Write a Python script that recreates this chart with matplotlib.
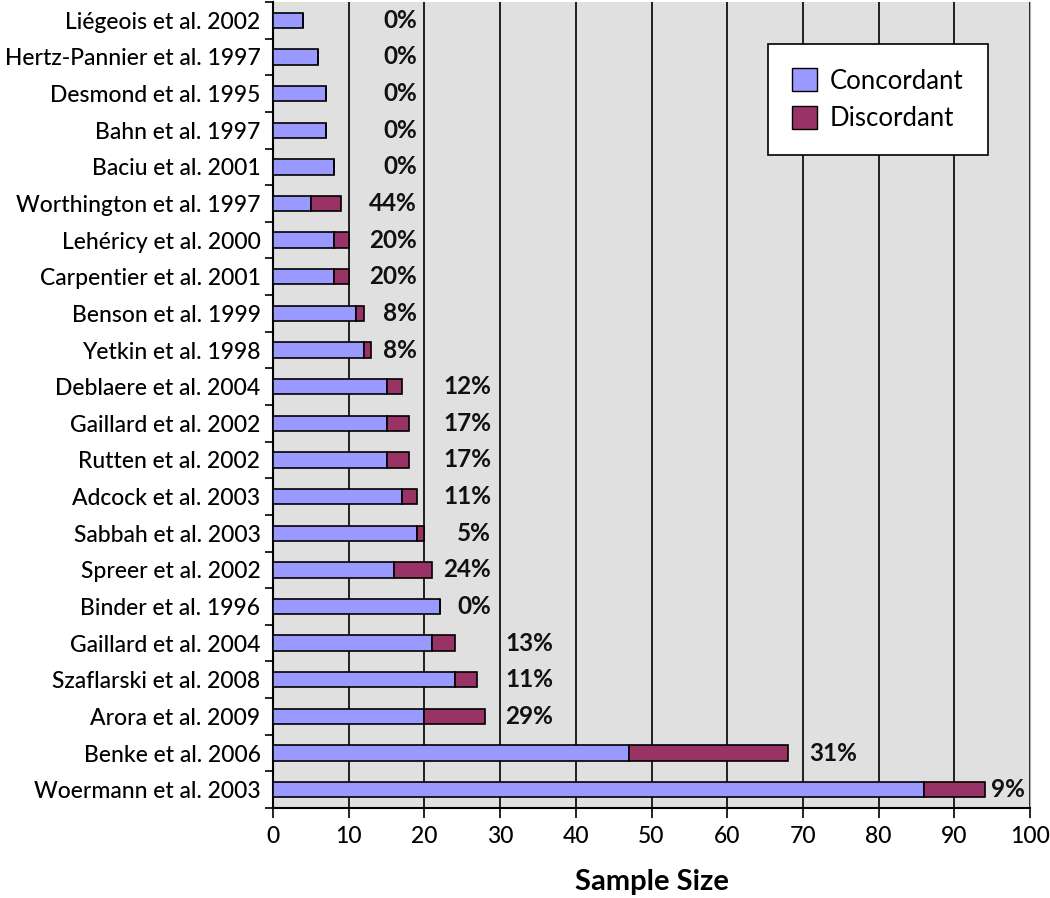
import matplotlib
matplotlib.use("Agg")
import matplotlib.pyplot as plt
import numpy as np
from matplotlib.patches import Patch

studies = ["Liégeois et al. 2002", "Hertz-Pannier et al. 1997", "Desmond et al. 1995",
           "Bahn et al. 1997", "Baciu et al. 2001", "Worthington et al. 1997",
           "Lehéricy et al. 2000", "Carpentier et al. 2001", "Benson et al. 1999",
           "Yetkin et al. 1998", "Deblaere et al. 2004", "Gaillard et al. 2002",
           "Rutten et al. 2002", "Adcock et al. 2003", "Sabbah et al. 2003",
           "Spreer et al. 2002", "Binder et al. 1996", "Gaillard et al. 2004",
           "Szaflarski et al. 2008", "Arora et al. 2009", "Benke et al. 2006",
           "Woermann et al. 2003"]
concordant = [4, 6, 7, 7, 8, 5, 8, 8, 11, 12, 15, 15, 15, 17, 19, 16, 22, 21, 24, 20, 47, 86]
discordant = [0, 0, 0, 0, 0, 4, 2, 2, 1, 1, 2, 3, 3, 2, 1, 5, 0, 3, 3, 8, 21, 8]
pct_labels = ["0%", "0%", "0%", "0%", "0%", "44%", "20%", "20%", "8%", "8%", "12%",
              "17%", "17%", "11%", "5%", "24%", "0%", "13%", "11%", "29%", "31%", "9%"]
label_right = [19, 19, 19, 19, 19, 19, 19, 19, 19, 19, 28.8, 28.8, 28.8, 28.8, 28.8,
               28.8, 28.8, 37, 37, 37, 77.2, 99.3]
xticks = [0, 10, 20, 30, 40, 50, 60, 70, 80, 90, 100]

FONT = ["Lato", "DejaVu Sans"]
plt.rcParams['font.family'] = FONT

fig = plt.figure(figsize=(10.5, 8.98), dpi=100)
ax = fig.add_axes([273/1050, 1-808/898, (1030-273)/1050, (808-2)/898])
ax.set_facecolor("#e0e0e0")

y = np.arange(len(studies))
ax.barh(y, concordant, height=0.42, color="#9999ff", edgecolor="black", linewidth=1.2, zorder=3)
ax.barh(y, discordant, left=concordant, height=0.42, color="#993366", edgecolor="black",
        linewidth=1.2, zorder=3)

for yi, lab, xr in zip(y, pct_labels, label_right):
    ax.text(xr, yi, lab, ha="right", va="center", fontsize=17.5, fontweight="bold",
            color="#111111", zorder=4)

ax.set_xlim(0, 100)
ax.set_ylim(len(studies) - 0.5, -0.5)
ax.set_xticks(xticks)
ax.set_xticklabels([str(t) for t in xticks], fontsize=16.5, fontweight="medium")
ax.set_yticks(y)
ax.set_yticklabels(studies, fontsize=16.5, fontweight="medium")
ax.set_yticks(np.arange(len(studies) + 1) - 0.5, minor=True)
ax.tick_params(axis="y", which="major", length=0, pad=9)
ax.tick_params(axis="y", which="minor", length=6, width=1.2, direction="out")
ax.tick_params(axis="x", which="major", length=7, width=1.2, direction="out", pad=6)

ax.grid(axis="x", color="black", linewidth=1.2, zorder=1)
ax.set_axisbelow(True)
ax.spines["top"].set_visible(False)
ax.spines["right"].set_color("#b0b0b0")
ax.spines["left"].set_linewidth(1.5)
ax.spines["bottom"].set_linewidth(1.5)

ax.set_xlabel("Sample Size", fontsize=21, fontweight="bold", labelpad=16)

handles = [Patch(facecolor="#9999ff", edgecolor="black", label="Concordant"),
           Patch(facecolor="#993366", edgecolor="black", label="Discordant")]
leg = ax.legend(handles=handles, loc="upper left", bbox_to_anchor=((768-273)/757, 1-(44-2)/806),
                fontsize=18.5, frameon=True, fancybox=False, edgecolor="black",
                framealpha=1, borderpad=0.95, handlelength=0.95, handleheight=1.0,
                handletextpad=0.5, labelspacing=0.46, borderaxespad=0)
leg.get_frame().set_linewidth(1.2)

fig.savefig("out.png", dpi=100)
